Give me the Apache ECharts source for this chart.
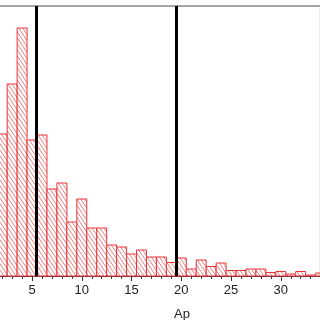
<!DOCTYPE html>
<html>
<head>
<meta charset="utf-8">
<script src="https://cdn.jsdelivr.net/npm/echarts@6/dist/echarts.min.js"></script>
<style>
html,body{margin:0;padding:0;background:#fff;}
#chart{width:320px;height:320px;}
</style>
</head>
<body>
<div id="chart"></div>
<script>
// Histogram bins (centers) and heights (relative counts)
var binCenters = [2,3,4,5,6,7,8,9,10,11,12,13,14,15,16,17,18,19,20,21,22,23,24,25,26,27,28,29,30,31,32,33,34];
var counts     = [142,192,248,136,141,87,93,54,77,48,48,31,29,22,26,19,19,13.5,18,7,16,9.5,13,5.5,5.5,7,7,3.5,4.5,2,4.5,1,3];
var markerLines = [5.45, 19.45];
var axisName = 'Ap';

var data = binCenters.map(function(c, i){ return [c, counts[i]]; });

// hatch pattern
var pc = document.createElement('canvas');
pc.width = 4; pc.height = 6;
var ctx = pc.getContext('2d');
ctx.fillStyle = '#ffffff';
ctx.fillRect(0,0,4,6);
ctx.strokeStyle = 'rgba(232,60,60,0.8)';
ctx.lineWidth = 0.85;
[-4,0,4].forEach(function(x0){
  ctx.beginPath(); ctx.moveTo(x0,0); ctx.lineTo(x0+4,6); ctx.stroke();
});
var pattern = {image: pc, repeat: 'repeat'};

var chart = echarts.init(document.getElementById('chart'), null, {renderer:'canvas'});
chart.setOption({
  animation: false,
  backgroundColor: '#fff',
  grid: {left: -17.7, top: 6, width: 338.3, height: 270, show: true, borderColor: '#888', borderWidth: 1.5, backgroundColor: 'transparent', containLabel: false, outerBoundsMode: 'none'},
  xAxis: [{
    type: 'value', min: 0, max: 34, interval: 1, position: 'bottom',
    axisLine: {show: true, lineStyle: {color: '#333', width: 1}},
    axisTick: {show: true, length: 3, lineStyle: {color: '#333'}},
    axisLabel: {show: false}, splitLine: {show: false}
  },{
    type: 'value', min: 0, max: 34, interval: 5, position: 'bottom',
    axisLine: {show: true, lineStyle: {color: '#333', width: 1}},
    axisTick: {show: true, length: 5, lineStyle: {color: '#333'}},
    axisLabel: {show: true, showMaxLabel: false, margin: 8, color: '#222', fontSize: 13, fontFamily: 'Liberation Sans, Arial, sans-serif'},
    splitLine: {show: false},
    name: axisName, nameLocation: 'middle', nameGap: 32,
    nameTextStyle: {color: '#222', fontSize: 13, fontFamily: 'Liberation Sans, Arial, sans-serif', padding: [0,0,0,61]}
  }],
  yAxis: {type: 'value', min: 0, max: 270, show: false, splitLine: {show: false}},
  series: [{
    type: 'custom',
    xAxisIndex: 0,
    data: data,
    renderItem: function(params, api){
      var x = api.value(0), y = api.value(1);
      var p0 = api.coord([x - 0.5, y]);
      var p1 = api.coord([x + 0.5, 0]);
      return {type: 'rect', shape: {x: p0[0], y: p0[1], width: p1[0]-p0[0], height: p1[1]-p0[1]},
              style: {fill: pattern, stroke: '#e8333a', lineWidth: 1}};
    },
    markLine: {
      silent: true, symbol: 'none', label: {show: false},
      lineStyle: {color: '#000', width: 3, type: 'solid'},
      data: markerLines.map(function(v){ return {xAxis: v}; })
    }
  }]
});
</script>
</body>
</html>
